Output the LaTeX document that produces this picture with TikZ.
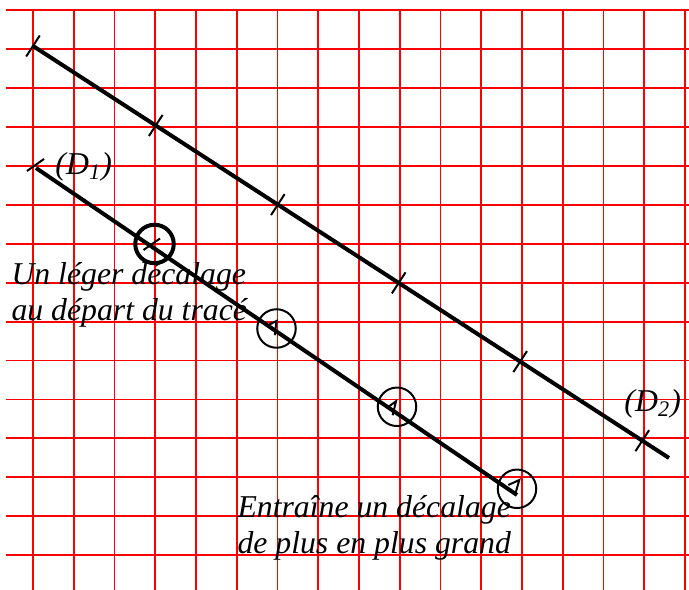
\documentclass[tikz,border=0pt]{standalone}
\usepackage{fontspec}
\setmainfont{Liberation Serif}
\usetikzlibrary{calc}
\definecolor{gridred}{HTML}{FF0000}

\tikzset{
  quadrillage/.style={gridred, line width=0.75pt},
  droite/.style={line width=1.6pt},
  repere/.style={line width=0.8pt},
  cercle/.style={circle, draw, line width=0.8pt, minimum size=15.4pt, inner sep=0pt},
  grandcercle/.style={cercle, line width=1.6pt},
  legende/.style={font=\fontsize{12.7}{14.5}\selectfont\itshape, inner sep=0pt, align=left}
}

\begin{document}
\begin{tikzpicture}[x=0.4pt, y=-0.4pt]
\useasboundingbox (0,0) rectangle (689,590);
% quadrillage
\foreach \i in {0,...,16}
  \draw[quadrillage] (33+40.75*\i,10) -- (33+40.75*\i,590);
\foreach \j in {0,...,14}
  \draw[quadrillage] (6,10+38.95*\j) -- (689,10+38.95*\j);

% droite (D2) et ses reperes
\coordinate (D2a) at (33,46);
\coordinate (D2b) at (669,458);
\draw[droite] (D2a) -- (D2b);
\foreach \p in {0,0.193,0.385,0.575,0.766,0.958}
  \draw[repere] ($(D2a)!\p!(D2b)!5pt!90:(D2b)$) -- ($(D2a)!\p!(D2b)!5pt!-90:(D2b)$);

% droite (D1)
\coordinate (D1a) at (36,168);
\coordinate (D1b) at (517,495);
\draw[droite] (D1a) -- (D1b);
\draw[repere] (27,171) -- (44,159);

% les decalages
\node[grandcercle] (c0) at (154.5,244) {};
\draw[repere] ($(c0)+(-11,6)$) -- ($(c0)+(5.5,-5.5)$);
\node[cercle] (c1) at (276.5,328.5) {};
\draw[repere] ($(c1)+(-8.4,-3.3)$) -- ($(c1)+(0,-7.6)$) -- ($(c1)+(-1.7,6.7)$);
\node[cercle] (c2) at (397,406.8) {};
\draw[repere] ($(c2)+(-10.3,1.2)$) -- ($(c2)+(-1,-5.5)$) -- ($(c2)+(-4.3,8.5)$);
\node[cercle] (c3) at (517,488.8) {};
\draw[repere] ($(c3)+(-8.7,-3.8)$) -- ($(c3)+(2.3,-8.8)$) -- ($(c3)+(-2,6.2)$);

% textes (ancre sur la derniere ligne)
\node[legende, anchor=base west] (nomD1) at (55,175) {(D\textsubscript{1})};
\node[legende, anchor=base west] (nomD2) at (624,412) {(D\textsubscript{2})};
\node[legende, anchor=base west] (depart) at (11,321) {Un léger décalage\\au départ du tracé};
\node[legende, anchor=base west] (suite) at (237,554) {Entraîne un décalage\\de plus en plus grand};
\end{tikzpicture}
\end{document}
